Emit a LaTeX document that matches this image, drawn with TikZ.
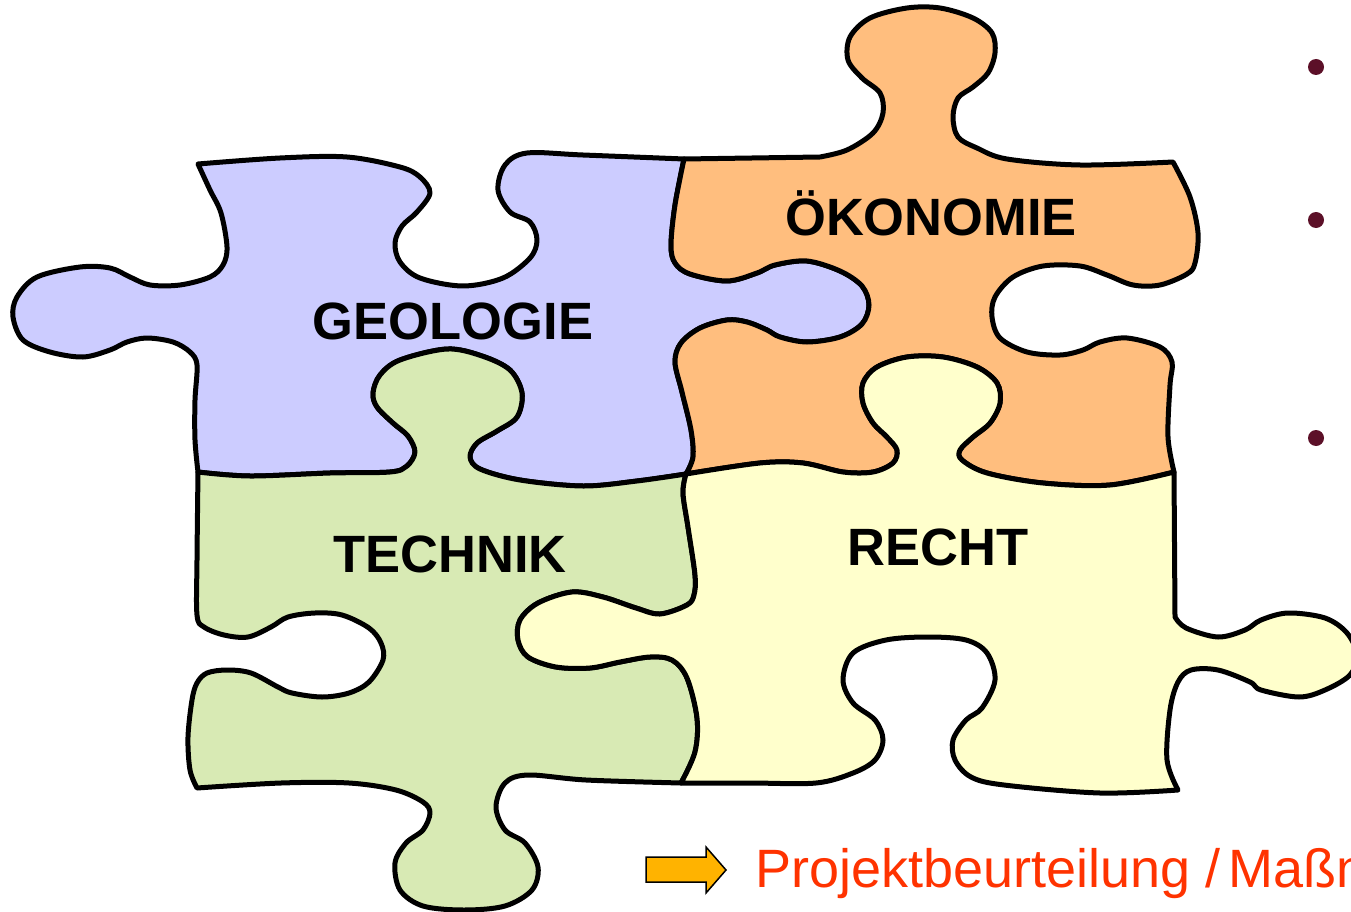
\documentclass[tikz,border=0pt]{standalone}
\usepackage{fontspec}
\setmainfont{Liberation Sans}
\definecolor{geo}{HTML}{CCCCFF}
\definecolor{oek}{HTML}{FFBE7E}
\definecolor{tec}{HTML}{D8EAB4}
\definecolor{rec}{HTML}{FFFFCC}
\definecolor{arr}{HTML}{FFB300}
\definecolor{txtred}{HTML}{FF3300}
\definecolor{bul}{HTML}{5C1028}
\tikzset{
  piece/.style={draw=black, line width=5pt, line join=round},
  lbl/.style={font=\bfseries\fontsize{52.5}{60}\selectfont, anchor=base, inner sep=0pt},
  bulletdot/.style={circle, fill=bul, minimum size=16pt, inner sep=0pt},
  sm/.style={smooth, tension=0.55}
}
\begin{document}
\begin{tikzpicture}[x=1pt,y=-1pt]
\useasboundingbox (0,0) rectangle (1351,912);
\clip (0,0) rectangle (1351,912);
\fill[white] (0,0) rectangle (1351,912);

% GEOLOGIE (blue)
\filldraw[piece, fill=geo] (198,472)
 -- plot[sm] coordinates {(198,472) (195,440) (195,400) (197,365) (190,352) (173,342) (147,338) (127,342) (110,350) (83,357) (50,352) (23,340) (13,317) (17,297) (37,277) (80,267) (110,268) (130,277) (150,285) (180,285) (210,277) (223,265) (227,247) (221,213) (210,190) (198,164)}
 -- plot[sm] coordinates {(198,164) (280,158) (347,157) (400,167) (420,177) (430,193) (417,212) (402,226) (395,243) (400,262) (420,278) (463,286) (503,278) (530,258) (537,240) (530,222) (510,212) (498,190) (505,165) (527,153) (583,155) (684,159)}
 -- plot[sm] coordinates {(684,159) (675,205) (671,245) (675,263) (690,274) (727,281) (757,273) (775,265) (807,261) (840,271) (862,286) (869,305) (862,324) (840,337) (807,342) (780,337) (767,330) (747,322) (727,320) (700,328) (681,343) (675,362) (682,392) (691,430) (693,457) (686,474)}
 -- plot[sm] coordinates {(686,474) (637,481) (583,486) (520,480) (480,469) (470,457) (477,443) (497,431) (517,417) (522,393) (510,370) (482,356) (447,349) (400,360) (380,375) (373,393) (377,407) (393,423) (408,436) (415,452) (407,466) (390,472) (330,473) (250,476) (198,472)}
 -- cycle;

% OEKONOMIE (orange)
\filldraw[piece, fill=oek] (684,159) -- (820,157)
 -- plot[sm] coordinates {(820,157) (847,150) (873,133) (883,113) (880,93) (862,78) (848,60) (850,37) (870,18) (907,8) (940,8) (973,18) (992,33) (995,53) (988,73) (973,87) (958,98) (953,117) (958,137) (977,148) (1007,159) (1080,165) (1173,162)}
 -- plot[sm] coordinates {(1173,162) (1190,197) (1198,233) (1195,263) (1187,274) (1160,285) (1133,285) (1107,275) (1080,266) (1043,266) (1013,277) (995,297) (992,317) (1000,338) (1027,352) (1060,355) (1083,350) (1100,342) (1127,338) (1160,347) (1172,362) (1170,385) (1168,437) (1174,472)}
 -- plot[sm] coordinates {(1174,472) (1110,485) (1043,483) (987,473) (962,460) (960,450) (973,437) (990,423) (1000,403) (997,383) (977,367) (943,357) (907,357) (877,367) (863,383) (863,403) (873,423) (887,437) (897,450) (893,463) (873,472) (843,472) (803,463) (760,463) (686,474)}
 -- plot[sm] coordinates {(686,474) (693,457) (691,430) (682,392) (675,362) (681,343) (700,328) (727,320) (747,322) (767,330) (780,337) (807,342) (840,337) (862,324) (869,305) (862,286) (840,271) (807,261) (775,265) (757,273) (727,281) (690,274) (675,263) (671,245) (675,205) (684,159)}
 -- cycle;

% TECHNIK (green)
\filldraw[piece, fill=tec] (198,472)
 -- plot[sm] coordinates {(198,472) (250,476) (330,473) (390,472) (407,466) (415,452) (408,436) (393,423) (377,407) (373,393) (380,375) (400,360) (447,349) (482,356) (510,370) (522,393) (517,417) (497,431) (477,443) (470,457) (480,469) (520,480) (583,486) (637,481) (686,474)}
 -- plot[sm] coordinates {(686,474) (683,493) (688,527) (695,575) (694,595) (687,605) (660,614) (636,608) (603,597) (572,592) (538,603) (520,620) (518,640) (528,657) (556,667) (590,668) (620,662) (650,657) (672,660) (687,678) (697,718) (695,752) (681,783)}
 -- plot[sm] coordinates {(681,783) (586,780) (528,775) (505,783) (496,807) (505,830) (525,843) (538,867) (532,890) (505,906) (464,910) (423,906) (400,890) (395,863) (406,843) (423,830) (430,813) (423,802) (396,790) (349,783) (281,783) (197,788)}
 -- plot[sm] coordinates {(197,788) (190,770) (188,737) (192,700) (197,683) (207,673) (227,670) (251,673) (278,687) (292,693) (322,697) (349,693) (369,682) (383,660) (381,643) (369,628) (342,615) (315,613) (288,617) (271,627) (248,637) (224,635) (204,627) (197,615) (197,560) (198,472)}
 -- cycle;

% RECHT (yellow)
\filldraw[piece, fill=rec] (686,474)
 -- plot[sm] coordinates {(686,474) (760,463) (803,463) (843,472) (873,472) (893,463) (897,450) (887,437) (873,423) (863,403) (863,383) (877,367) (907,357) (943,357) (977,367) (997,383) (1000,403) (990,423) (973,437) (960,450) (962,460) (987,473) (1043,483) (1110,485) (1174,472)}
 -- (1175,617)
 -- plot[sm] coordinates {(1175,617) (1186,628) (1218,637) (1245,630) (1261,620) (1288,613) (1325,618) (1347,633) (1357,655) (1350,675) (1325,690) (1299,697) (1261,690) (1250,682) (1218,670) (1191,670) (1178,682) (1170,710) (1167,760) (1178,790)}
 -- plot[sm] coordinates {(1178,790) (1100,793) (1004,785) (971,777) (955,760) (953,740) (966,720) (982,708) (995,680) (987,653) (966,640) (928,637) (886,640) (853,653) (843,680) (853,703) (875,720) (883,740) (875,760) (853,773) (816,783) (750,783) (681,783)}
 -- plot[sm] coordinates {(681,783) (695,752) (697,718) (687,678) (672,660) (650,657) (620,662) (590,668) (556,667) (528,657) (518,640) (520,620) (538,603) (572,592) (603,597) (636,608) (660,614) (687,605) (694,595) (695,575) (688,527) (683,493) (686,474)}
 -- cycle;

% labels
\node[lbl] (geol) at (453,339) {GEOLOGIE};
\node[lbl] (oeko) at (931,235) {ÖKONOMIE};
\node[lbl] (tech) at (450,572) {TECHNIK};
\node[lbl] (recht) at (938,565) {RECHT};

% bullets
\node[bulletdot] (b1) at (1316,67) {};
\node[bulletdot] (b2) at (1316,220) {};
\node[bulletdot] (b3) at (1316,438) {};

% arrow and conclusion
\filldraw[fill=arr, draw=black, line width=1.5pt, line join=miter]
  (646,857) -- (706,857) -- (706,847) -- (726,870) -- (706,893) -- (706,882) -- (646,882) -- cycle;
\node[anchor=base west, inner sep=0pt, text=txtred, font=\fontsize{54}{60}\selectfont] (concl) at (755,887) {Projektbeurteilung /\hspace{-0.12em} Maßnahmen};
\end{tikzpicture}
\end{document}
